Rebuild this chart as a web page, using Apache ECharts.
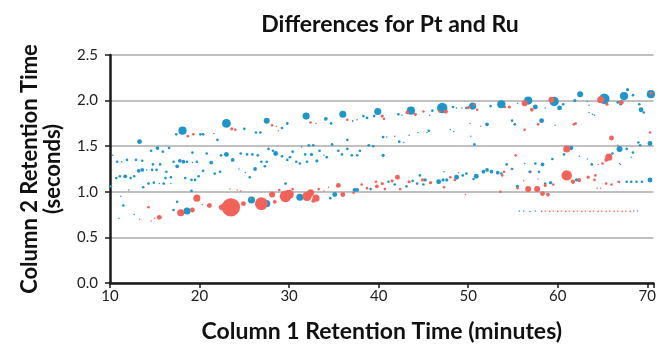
<!DOCTYPE html>
<html>
<head>
<meta charset="utf-8">
<script src="https://cdn.jsdelivr.net/npm/echarts@6/dist/echarts.min.js"></script>
<style>html,body{margin:0;padding:0;background:#fff}#c{width:659px;height:348px}</style>
</head>
<body>
<div id="c"></div>
<script>
// ---- data: [column1 RT (min), column2 RT (s), bubble size] ----
const titleText = "Differences for Pt and Ru";
const xName = "Column 1 Retention Time (minutes)";
const yName = "Column 2 Retention Time\n(seconds)";
const yTicks = [0.0, 0.5, 1.0, 1.5, 2.0, 2.5];
const xTicks = [10, 20, 30, 40, 50, 60, 70];

const bluePts = [
[18.1,1.67,7],[13.3,1.55,4],[17.4,1.63,2],[15.3,1.48,3],[14.6,1.45,2],[16.6,1.48,2],[15.9,1.44,2],[19.2,1.43,2],
[10.3,1.40,1.5],[10.8,1.33,2],[11.3,1.33,1.5],[11.9,1.35,2],[12.9,1.35,2],[13.6,1.34,2],[14.8,1.30,2],[15.6,1.30,2],
[17.1,1.33,2],[17.8,1.34,3],[18.2,1.33,3],[18.6,1.33,2],[17.5,1.28,3],[19.7,1.33,2],[19.2,1.32,1.5],
[13.2,1.23,3],[13.6,1.24,3],[14.1,1.24,1.5],[14.7,1.24,2],[15.2,1.24,2],[16.3,1.22,2],
[10.7,1.15,2],[11.1,1.17,2],[11.7,1.17,3],[12.3,1.15,2],[12.7,1.17,2],[16.2,1.15,2],[16.8,1.16,2],[18.4,1.15,2],
[19.1,1.13,2],[19.5,1.13,2],[19.9,1.17,2],[13.7,1.05,2],[14.3,1.09,2],[14.9,1.10,2],[15.5,1.09,1.5],[16.0,1.09,2],
[16.8,1.09,1.5],[10.1,1.06,2],[12.1,1.02,1.5],[19.1,1.01,2],[11.2,0.95,1.5],[11.5,0.85,2],[17.5,0.89,2],[17.1,0.80,2],
[18.6,0.79,6],[11.0,0.71,1.5],[12.7,0.75,1.5],
[23.0,1.75,7.5],[27.5,1.78,5],[25.0,1.69,2],[29.2,1.70,2],[29.8,1.75,2],[26.3,1.65,2],[26.8,1.65,2],[20.1,1.63,2],
[20.4,1.63,2],[21.6,1.64,1.5],[22.0,1.57,2],[20.8,1.42,2],[23.0,1.41,4],[22.4,1.40,2],[23.7,1.35,3],[24.6,1.42,2],
[25.3,1.41,2],[25.9,1.41,2],[26.5,1.40,2],[27.7,1.47,2],[28.2,1.45,2],[28.5,1.42,4],[29.2,1.39,2],[29.8,1.35,2],
[21.3,1.32,3],[26.9,1.33,2],[27.5,1.33,2],[26.2,1.25,3],[27.3,1.28,2],[24.4,1.25,1.5],[20.4,1.23,2],[21.7,1.20,2],
[22.3,1.22,2],[25.1,1.21,1.5],[25.6,1.16,2],[29.6,1.09,2],[25.8,0.91,6],[27.5,0.87,6],
[31.9,1.83,6],[36.0,1.85,6],[34.1,1.80,3],[38.3,1.83,2],[38.7,1.81,2],[39.5,1.83,2],[39.9,1.88,6],[34.7,1.75,2],
[29.8,1.74,1.5],[37.1,1.78,1.5],[37.6,1.79,1.5],[32.2,1.51,2],[32.7,1.51,2],[31.4,1.49,1.5],[36.5,1.57,2],
[30.4,1.44,2],[31.8,1.41,2],[32.5,1.41,2.5],[33.4,1.45,2],[33.9,1.40,1.5],[34.8,1.52,2],[35.5,1.45,2],[35.9,1.41,2],
[36.5,1.47,2],[37.6,1.40,2],[37.9,1.45,2],[38.9,1.51,2],[39.4,1.50,2],[30.1,1.38,2],[30.8,1.33,2],[31.2,1.31,2],
[32.0,1.33,2],[33.1,1.34,2.5],[34.2,1.38,2],[37.0,1.40,2],[31.2,0.94,6],[35.1,0.97,4],[34.6,0.93,2],[37.3,1.02,3],
[37.6,1.02,3],[39.1,1.03,2],
[43.6,1.89,7],[47.1,1.92,9],[46.0,1.89,2],[42.2,1.85,2],[42.6,1.84,1.5],[48.3,1.93,2],[48.7,1.92,1.5],[49.3,1.92,1.5],
[49.8,1.92,2],[45.7,1.84,1.5],[40.5,1.60,2],[40.9,1.60,1.5],[41.8,1.61,1.5],[42.3,1.55,2],[42.8,1.54,1.5],
[43.4,1.62,1.5],[44.4,1.65,1.5],[45.4,1.65,1.5],[45.6,1.67,2],[48.0,1.68,1.5],[48.4,1.66,1.5],[40.5,1.40,2.5],
[44.6,1.18,2],[45.2,1.13,2.5],[44.3,1.09,2],[45.0,1.08,2],[46.7,1.11,4],[47.2,1.13,2.5],[47.6,1.13,2.5],[48.7,1.16,4],
[49.4,1.18,2],[49.8,1.20,2],[41.1,1.11,2],[41.8,1.08,2],[43.1,1.06,2],[43.8,1.12,2],[47.3,1.22,1.5],
[50.5,1.94,6],[53.7,1.96,7],[56.7,2.00,7],[59.6,1.99,8],[52.5,1.94,2],[55.5,1.97,1.5],[57.5,1.93,4],[58.6,1.92,1.5],
[58.2,1.78,4],[54.9,1.78,2],[55.2,1.74,2],[52.1,1.74,3],[59.7,1.73,1.5],[50.3,1.61,1.5],[50.7,1.52,2],[51.7,1.22,3],
[52.1,1.24,3],[52.6,1.22,3],[50.9,1.17,4],[50.6,1.14,2],[53.3,1.21,3],[53.7,1.20,2],[54.3,1.30,2],[54.9,1.25,2],
[56.9,1.22,2.5],[57.5,1.31,2],[57.9,1.22,2],[58.3,1.30,3],[59.4,1.36,2],[56.3,1.31,1.5],[55.5,1.06,2.5],[58.6,1.09,2],
[59.2,1.10,2.5],
[62.5,2.07,5],[65.2,2.02,9],[67.4,2.05,7],[70.4,2.07,7],[67.8,2.12,2.5],[68.4,2.06,2],[60.2,1.92,4],[60.6,1.96,2],
[61.9,2.00,2.5],[63.3,1.99,1.5],[63.5,1.95,1.5],[66.7,1.98,2],[67.0,1.96,2],[69.1,1.96,2],[69.3,1.90,4],[69.6,1.87,2],
[63.5,1.87,1.5],[63.9,1.85,1.5],[64.1,1.84,1.5],[69.0,1.54,2],[69.2,1.51,2],[70.3,1.53,4],[61.5,1.48,3.5],
[60.7,1.41,2],[62.4,1.39,1.5],[66.9,1.47,5],[66.1,1.42,2],[67.7,1.47,2],[68.4,1.43,2],[68.2,1.38,1.5],[63.8,1.30,2],
[63.3,1.36,1.5],[66.9,1.31,1.5],[62.1,1.13,2.5],[62.4,1.12,2],[67.7,1.11,2],[68.2,1.11,2],[68.8,1.11,2],[69.4,1.11,2],
[70.3,1.13,4],[66.9,1.10,1.5],
[55.7,0.79,1.5],[56.2,0.79,1.5],[56.9,0.785,1.5],[57.5,0.79,1.5],[68.9,0.79,1.5]
];

const redPts = [
[18.7,1.61,2],[19.3,1.63,2],[14.3,0.83,2],[15.5,0.72,4],[14.6,0.68,1.5],[17.9,0.77,6],[19.2,0.80,4],[19.7,0.93,6],
[13.3,0.70,1.5],[15.0,0.71,1.5],
[23.6,1.69,2.5],[24.0,1.68,2],[28.1,1.73,2],[28.6,1.72,1.5],[28.8,1.67,1.5],[23.5,0.83,16],[26.9,0.87,11],[22.5,0.83,5],
[24.9,0.87,4],[25.7,0.92,1.5],[21.1,0.85,4],[20.3,0.86,1.5],[28.1,0.97,5],[28.4,0.89,3],[28.9,1.02,2],[29.6,0.95,10],
[23.4,1.03,1.5],[24.2,1.02,1.5],[24.6,1.01,1.5],
[32.4,1.76,2],[33.0,1.75,1.5],[36.5,1.79,2],[37.1,1.77,1.5],[30.0,0.97,8],[32.0,0.95,8],[32.4,0.99,6],[33.0,0.93,6],
[32.7,0.90,3],[30.4,1.03,2],[33.3,1.03,2],[35.5,1.07,4],[36.0,0.97,4],[37.2,0.99,2],[38.1,1.08,2],[38.7,1.04,2],
[39.7,1.11,2],[39.8,1.06,3],[34.4,1.05,1.5],[33.9,1.01,1.5],
[40.4,1.83,2.5],[40.6,1.80,2],[43.2,1.87,3],[44.1,1.85,2.5],[45.0,1.88,2],[46.8,1.88,2],[47.5,1.88,3.5],[50.0,1.92,2],
[42.1,1.16,4],[41.5,1.12,2.5],[40.4,1.09,2.5],[40.7,1.03,2],[42.4,1.03,2],[43.4,1.11,2.5],[44.9,1.13,2.5],
[45.8,1.10,2.5],[47.3,1.05,2],[48.0,1.16,2],[48.5,1.13,2],[49.7,0.97,1.5],[48.9,1.21,1.5],
[50.1,1.93,2],[50.7,1.96,2],[51.0,1.90,2],[54.1,1.93,2],[54.6,1.93,2.5],[56.3,1.97,5],[57.1,1.90,3],[59.3,2.01,5],
[57.8,1.74,2],[56.3,1.68,2],[55.3,1.40,2],[54.8,1.25,1.5],[54.0,1.22,2],[53.8,1.18,2],[57.0,1.22,1.5],[56.2,1.12,1.5],
[57.8,1.14,1.5],[56.7,1.03,5],[57.7,1.03,5],[58.3,0.98,4],[58.9,0.97,3],[58.6,1.07,2.5],[59.5,1.08,2],[55.5,1.04,2],
[53.6,1.00,2],[50.2,1.75,1.5],[51.4,1.72,1.5],
[64.8,2.01,6],[67.1,1.98,4],[70.4,2.08,2.5],[65.5,1.96,2.5],[61.8,1.74,2],[62.0,1.75,2],[66.0,1.59,4],[70.3,1.65,2],
[61.0,1.47,6],[65.7,1.38,6],[65.4,1.35,3],[65.0,1.31,2],[64.5,1.30,1.5],[61.0,1.18,9],[61.7,1.11,3.5],[62.4,1.13,3],
[63.4,1.16,2.5],[64.1,1.13,2],[64.2,1.18,2],[65.4,1.09,2],[66.0,1.08,2],[66.8,1.11,2],[67.0,1.30,1.5],[66.7,1.51,1.5],
[64.8,1.04,1.5],[64.4,1.04,1.5],
[58.2,0.785,1.6],[58.6,0.79,1.6],[59.1,0.785,1.6],[59.5,0.79,1.6],[60.0,0.785,1.6],[60.4,0.79,1.6],[60.9,0.785,1.6],
[61.3,0.79,1.6],[61.8,0.785,1.6],[62.2,0.79,1.6],[62.7,0.785,1.6],[63.1,0.79,1.6],[63.6,0.785,1.6],[64.0,0.79,1.6],
[64.5,0.785,1.6],[64.9,0.79,1.6],[65.4,0.785,1.6],[65.8,0.79,1.6],[66.3,0.785,1.6],[66.7,0.79,1.6],[67.2,0.785,1.6],
[67.6,0.79,1.6],[68.1,0.785,1.6],[68.5,0.79,1.6]
];

const blueColor = '#1f96c9';
const redColor = '#f1625b';
const FONT = 'Lato';
const bubble = d => d[2] < 1.7 ? d[2] : d[2] * 1.12 + 0.4;

const chart = echarts.init(document.getElementById('c'), null, {renderer: 'canvas'});
chart.setOption({
  animation: false,
  backgroundColor: '#ffffff',
  title: {
    text: titleText, left: 385, top: 8, textAlign: 'center',
    textStyle: {fontFamily: FONT, fontWeight: 'bold', fontSize: 23, color: '#111'}
  },
  grid: {left: 110, right: 2, top: 55, bottom: 61, containLabel: false},
  xAxis: {
    type: 'value', min: 10, max: 70.7, interval: 10,
    name: xName, nameLocation: 'middle', nameGap: 37,
    nameTextStyle: {fontFamily: FONT, fontWeight: 'bold', fontSize: 23, color: '#111'},
    axisLine: {show: true, lineStyle: {color: '#1a1a1a', width: 2.5}},
    axisTick: {show: true, length: 5, lineStyle: {color: '#1a1a1a', width: 1.5}},
    axisLabel: {fontFamily: FONT, fontSize: 15, color: '#222', margin: 6,
      formatter: v => (xTicks.indexOf(v) >= 0 ? String(v) : '')},
    splitLine: {show: false}
  },
  yAxis: {
    type: 'value', min: 0, max: 2.5, interval: 0.5,
    name: yName, nameLocation: 'middle', nameGap: 46, nameRotate: 90,
    nameTextStyle: {fontFamily: FONT, fontWeight: 'bold', fontSize: 22, color: '#111', lineHeight: 23},
    axisLine: {show: true, lineStyle: {color: '#1a1a1a', width: 2.5}},
    axisTick: {show: true, length: 5, lineStyle: {color: '#1a1a1a', width: 1.5}},
    axisLabel: {fontFamily: FONT, fontSize: 15, color: '#222', margin: 12,
      formatter: v => (yTicks.indexOf(v) >= 0 ? v.toFixed(1) : '')},
    splitLine: {show: true, lineStyle: {color: '#ababab', width: 1.5}}
  },
  series: [
    {type: 'scatter', name: 'Pt', data: bluePts, symbolSize: bubble,
     itemStyle: {color: blueColor, opacity: 1}, z: 2},
    {type: 'scatter', name: 'Ru', data: redPts, symbolSize: bubble,
     itemStyle: {color: redColor, opacity: 1}, z: 3}
  ]
});
</script>
</body>
</html>
